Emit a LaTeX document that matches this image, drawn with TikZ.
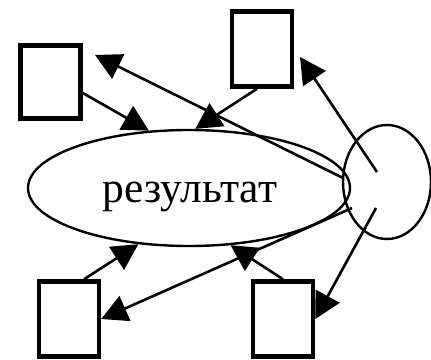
\documentclass[tikz,border=0pt]{standalone}
\usepackage{fontspec}
\setmainfont{Liberation Serif}
\usetikzlibrary{shapes.geometric,arrows.meta}

\tikzset{
  box/.style = {draw, line width=4.5pt, minimum width=60pt, minimum height=75pt, inner sep=0pt},
  oval/.style = {draw, ellipse, line width=2.4pt, inner sep=0pt},
  link/.style = {line width=2.6pt, -{Triangle[length=26pt,width=27pt]}}
}

\begin{document}
\begin{tikzpicture}[x=1pt, y=1pt]
\useasboundingbox (0,0) rectangle (431,359);
\node[oval, minimum width=322pt, minimum height=116pt] (res) at (189,171) {};
\node[font=\fontsize{43.5}{48}\selectfont, anchor=base] (restext) at (190,156) {результат};
\node[oval, minimum width=88pt, minimum height=114pt] (circ) at (387,177) {};
\node[box, minimum height=73pt] (lt) at (50.5,277) {};
\node[box] (tm) at (262,310) {};
\node[box] (lb) at (69,40) {};
\node[box] (rb) at (283,40) {};

\coordinate (s2) at (343,181);
\coordinate (s4) at (377,187);
\coordinate (s5) at (352,151);
\coordinate (s8) at (376,151);
\coordinate (t2) at (95,304);
\coordinate (t4) at (300,302);

\draw[link] ([yshift=-11pt]lt.east) -- (res.125);
\draw[link] (s2) -- (t2);
\draw[link] ([xshift=-5pt]tm.south) -- (res.84);
\draw[link] (s4) -- (t4);
\draw[link] (s5) -- (lb.east);
\draw[link] ([xshift=15pt]lb.north) -- (res.228);
\draw[link] (rb.north) -- (res.-54);
\draw[link] (s8) -- (rb.east);
\end{tikzpicture}
\end{document}
